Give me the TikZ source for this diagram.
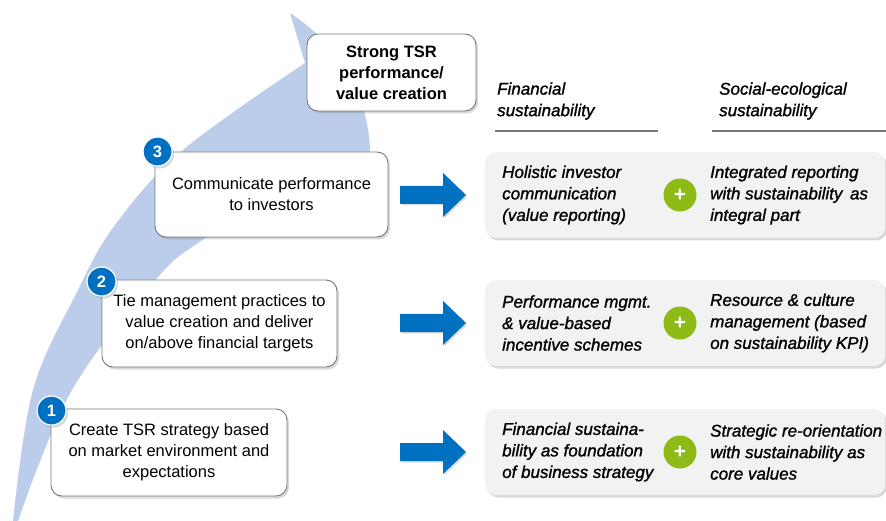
\documentclass[tikz,border=0pt]{standalone}
\usepackage{fontspec}
\setmainfont{Liberation Sans}
\newfontfamily\colfamily[FakeBold=1.2]{Liberation Sans}
\usetikzlibrary{positioning, shadows}

\definecolor{tsrblue}{RGB}{0,112,192}
\definecolor{arcblue}{RGB}{188,205,235}
\definecolor{plusgreen}{RGB}{141,186,22}
\definecolor{panelgray}{RGB}{242,242,242}
\definecolor{framegray}{RGB}{120,120,120}
\def\tsrfont{\fontsize{16.5}{21}\selectfont}

\tikzset{
  softshadow/.style={drop shadow={shadow xshift=2pt, shadow yshift=-2.5pt, opacity=.3}},
  stepbox/.style={draw=framegray, line width=0.9pt, fill=white, rounded corners=11pt,
    align=center, inner sep=0pt, font=\tsrfont, softshadow},
  badge/.style={circle, fill=tsrblue, draw=white, line width=1.2pt, text=white,
    font=\tsrfont\bfseries, minimum size=29pt, inner sep=0pt, softshadow},
  panel/.style={fill=panelgray, rounded corners=11pt, anchor=west, inner sep=0pt,
    minimum width=400pt, minimum height=86pt, softshadow},
  coltext/.style={anchor=west, align=left, inner sep=0pt,
    font=\colfamily\fontsize{17}{21.5}\selectfont\itshape},
  plus/.style={circle, fill=plusgreen, text=white, minimum size=33pt, inner sep=0pt,
    font=\fontsize{21}{21}\selectfont\bfseries},
}

\begin{document}
\begin{tikzpicture}[x=1pt, y=-1pt]
  \useasboundingbox (0,0) rectangle (886,521);

  % rising arc behind the steps
  \fill[arcblue] plot[smooth, tension=.6] coordinates {(13,521) (33,390) (77,292) (115,225) (183,150) (305,63)}
    -- (290,13) .. controls (335,42) and (372,95) .. (370,160) -- (300,172)
    -- plot[smooth, tension=.6] coordinates {(300,172) (205,238) (157,278) (72,390) (18,521)} -- cycle;

  % block arrows
  \foreach \y in {195,323,452}
    \fill[tsrblue, drop shadow={shadow xshift=1.5pt, shadow yshift=-1.5pt, opacity=.25}]
      (400,\y-9) -- (443,\y-9) -- (443,\y-22) -- (466,\y) -- (443,\y+22) -- (443,\y+9) -- (400,\y+9) -- cycle;

  % column headers
  \node (fin) [coltext] at (497,101) {Financial\\sustainability};
  \node (soc) [coltext] at (719,101) {Social-ecological\\sustainability};
  \coordinate (finA) at (495,131); \coordinate (finB) at (658,131);
  \coordinate (socA) at (712,131); \coordinate (socB) at (886,131);
  \draw[framegray, line width=1.5pt] (finA) -- (finB);
  \draw[framegray, line width=1.5pt] (socA) -- (socB);

  % gray panels
  \node (p3) [panel] at (485,195) {};
  \node (p2) [panel] at (485,323) {};
  \node (p1) [panel] at (485,452) {};

  \node (f3) [coltext] at (502,195) {Holistic investor\\communication\\(value reporting)};
  \node (s3) [coltext] at (710,195) {Integrated reporting\\with sustainability\, as\\integral part};
  \node (f2) [coltext] at (502,323) {Performance mgmt.\\\& value-based\\incentive schemes};
  \node (s2) [coltext] at (710,323) {Resource \& culture\\management (based\\on sustainability KPI)};
  \node (f1) [coltext] at (502,452) {Financial sustaina-\\bility as foundation\\of business strategy};
  \node (s1) [coltext] at (710,452) {Strategic re-orientation\\with sustainability as\\core values};

  \node (plus3) [plus] at (680,195) {+};
  \node (plus2) [plus] at (680,323) {+};
  \node (plus1) [plus] at (680,452) {+};

  % steps
  \node (top) [stepbox, minimum width=169pt, minimum height=77pt, font=\tsrfont\bfseries]
    at (391.5,72.5) {Strong TSR\\performance/\\value creation};
  \node (b3) [stepbox, minimum width=233pt, minimum height=85pt] at (271.5,194.5)
    {Communicate performance\\to investors};
  \node (b2) [stepbox, minimum width=235pt, minimum height=87pt] at (219.5,323.5)
    {Tie management practices to\\value creation and deliver\\on/above financial targets};
  \node (b1) [stepbox, minimum width=236pt, minimum height=87pt] at (169,452.5)
    {Create TSR strategy based\\on market environment and\\expectations};

  \node (n3) [badge] at ([shift={(3pt,0pt)}]b3.north west) {3};
  \node (n2) [badge] at ([shift={(0pt,-2pt)}]b2.north west) {2};
  \node (n1) [badge] at ([shift={(1pt,-2pt)}]b1.north west) {1};
\end{tikzpicture}
\end{document}
